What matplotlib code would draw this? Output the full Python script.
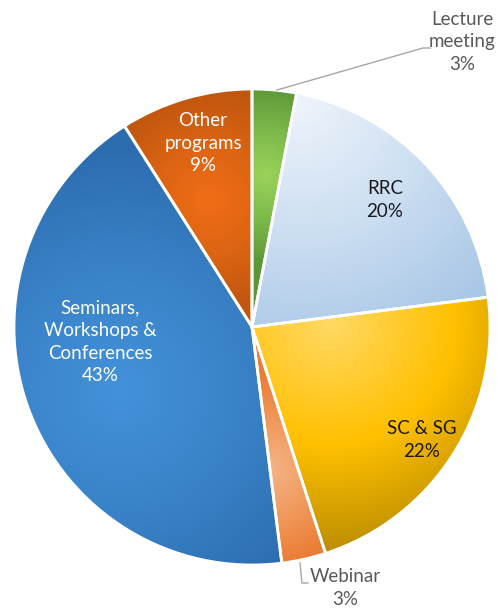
import numpy as np
import matplotlib.pyplot as plt
from matplotlib.colors import to_rgb

# data
labels = ['Lecture\nmeeting', 'RRC', 'SC & SG', 'Webinar',
          'Seminars,\nWorkshops &\nConferences', 'Other\nprograms']
shares = [3, 20, 22, 3, 43, 9]

# styling (3-stop gradient per slice, focal point in pixel coords)
light = ['#9bd35a', '#eef4fb', '#ffd966', '#f6b489', '#4392da', '#f06d17']
mid = ['#7db84a', '#cddff2', '#ffc000', '#f09a5c', '#3a82c8', '#dc6413']
dark = ['#5b9637', '#a9c7e6', '#b08500', '#eb7c35', '#2c6db0', '#c0560f']
focus = [(266, 175), (300, 100), (330, 320), (268, 470), (120, 390), (210, 200)]
spread = [90, 260, 250, 95, 240, 110]
txt_col = ['#595959', '#1a1a1a', '#1a1a1a', '#595959', 'white', 'white']
txt_pos = [(462, 42), (385, 200), (422, 440), (345, 588), (100, 342), (203, 143)]

W, H = 497, 611
plt.rcParams['font.family'] = ['Lato', 'DejaVu Sans']

fig = plt.figure(figsize=(W / 100, H / 100), dpi=100)
ax = fig.add_axes([0, 0, 1, 1])

cx, cy, r = 252, H - 327, 238
wedges, _ = ax.pie(shares, startangle=90, counterclock=False, center=(cx, cy),
                   radius=r, frame=True,
                   wedgeprops=dict(edgecolor='white', linewidth=2))

xx, yy = np.meshgrid(np.arange(W) + 0.5, np.arange(H) + 0.5)
for i, w in enumerate(wedges):
    w.set_facecolor('none')
    w.set_zorder(3)
    fx, fy = focus[i][0], H - focus[i][1]
    t = np.clip(np.hypot(xx - fx, yy - fy) / spread[i], 0, 1)[..., None]
    c0, c1, c2 = (np.array(to_rgb(c[i])) for c in (light, mid, dark))
    a = np.clip(t * 2, 0, 1)
    b = np.clip(t * 2 - 1, 0, 1)
    img = np.where(t < 0.5, c0 * (1 - a) + c1 * a, c1 * (1 - b) + c2 * b)
    im = ax.imshow(img, extent=(0, W, 0, H), origin='lower', zorder=2,
                   interpolation='bilinear')
    im.set_clip_path(w)

for i, lab in enumerate(labels):
    x, y = txt_pos[i]
    ax.text(x, H - y, f'{lab}\n{shares[i]}%', ha='center', va='center',
            fontsize=13.5, color=txt_col[i], linespacing=1.4, zorder=5)

# leader lines
ax.plot([277, 423, 430], [H - 90, H - 48, H - 48], color='#a6a6a6', lw=1, zorder=4)
ax.plot([300, 302, 308], [H - 563, H - 583, H - 583], color='#a6a6a6', lw=1, zorder=4)

ax.set_xlim(0, W)
ax.set_ylim(0, H)
ax.axis('off')
fig.savefig('out.png', dpi=100)
